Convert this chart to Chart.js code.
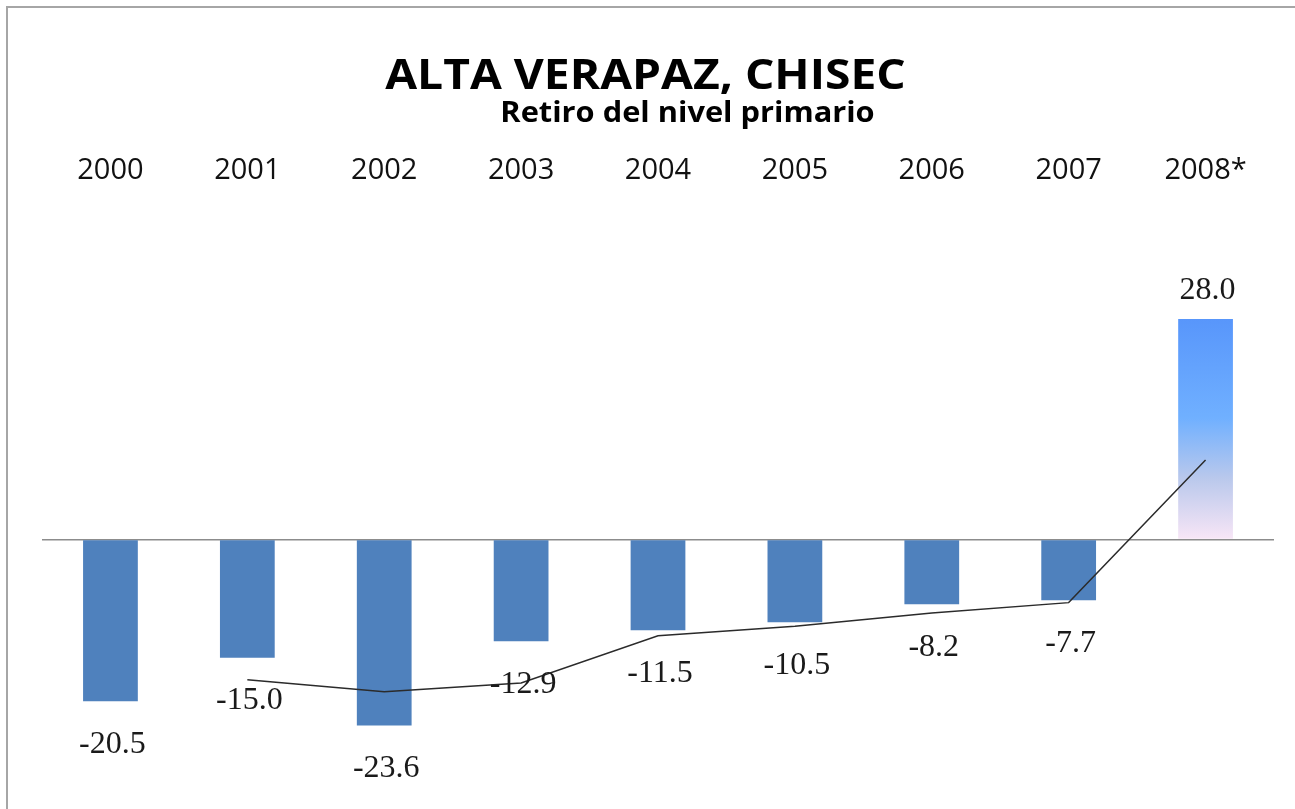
<!DOCTYPE html>
<html>
<head>
<meta charset="utf-8">
<script src="https://cdn.jsdelivr.net/npm/chart.js@4"></script>
<style>
  html, body { margin: 0; padding: 0; background: #fff; overflow: hidden; }
  #wrap { position: relative; width: 1295px; height: 809px; }
  #frame { position: absolute; left: 6px; top: 6px; width: 1400px; height: 900px;
           border-left: 2px solid #a6a6a6; border-top: 2px solid #a6a6a6; }
  canvas { position: absolute; left: 0; top: 0; }
</style>
</head>
<body>
<div id="wrap">
  <div id="frame"></div>
  <canvas id="chart" width="1295" height="809"></canvas>
</div>
<script>
// datos
const years = ["2000", "2001", "2002", "2003", "2004", "2005", "2006", "2007", "2008*"];
const retiro = [-20.5, -15.0, -23.6, -12.9, -11.5, -10.5, -8.2, -7.7, 28.0];
const tendencia = [null, -17.8, -19.3, -18.2, -12.2, -11.0, -9.3, -8.0, 10.1];

const titulo = "ALTA VERAPAZ, CHISEC";
const subtitulo = "Retiro del nivel primario";

// color de barra: azul liso para negativos, degradado para el positivo
function barColor(ctx) {
  const v = ctx.raw;
  if (v < 0) return "#4f81bd";
  const chart = ctx.chart;
  if (!chart.chartArea) return "#5b9bff";
  const y = chart.scales.y;
  const g = chart.ctx.createLinearGradient(0, y.getPixelForValue(v), 0, y.getPixelForValue(0));
  g.addColorStop(0, "#5896fb");
  g.addColorStop(0.45, "#70b0ff");
  g.addColorStop(0.72, "#b9c8ec");
  g.addColorStop(1, "#f8e6f6");
  return g;
}

// texto un poco ensanchado, como en el original
function wideText(c, txt, x, y, sx) {
  c.save();
  c.translate(x, y);
  c.scale(sx, 1);
  c.fillText(txt, 0, 0);
  c.restore();
}

const titlePlugin = {
  id: "titulos",
  afterDraw(chart) {
    const c = chart.ctx;
    const cx = chart.width / 2;
    c.save();
    c.fillStyle = "#000";
    c.textAlign = "center";
    c.textBaseline = "alphabetic";
    c.font = "bold 42px 'Open Sans'";
    wideText(c, titulo, cx - 2, 89, 1.1);
    c.font = "bold 28px 'Open Sans'";
    wideText(c, subtitulo, cx + 40, 122, 1.1);
    c.restore();
  }
};

const labelPlugin = {
  id: "etiquetas",
  afterDatasetsDraw(chart) {
    const c = chart.ctx;
    const meta = chart.getDatasetMeta(1);
    c.save();
    c.font = "32px 'Liberation Serif'";
    c.fillStyle = "#1a1a1a";
    c.textAlign = "center";
    c.textBaseline = "middle";
    meta.data.forEach((bar, i) => {
      const v = retiro[i];
      const y = v < 0 ? bar.y + 43 : bar.y - 28;
      c.fillText(v.toFixed(1), bar.x + 2, y);
    });
    c.restore();
  }
};

new Chart(document.getElementById("chart"), {
  type: "bar",
  data: {
    labels: years,
    datasets: [
      {
        type: "line",
        label: "Tendencia",
        data: tendencia,
        borderColor: "#2b2b2b",
        borderWidth: 1.5,
        pointRadius: 0,
        tension: 0,
        order: 0
      },
      {
        label: "Retiro",
        data: retiro,
        backgroundColor: barColor,
        borderWidth: 0,
        barPercentage: 0.4,
        categoryPercentage: 1,
        order: 1
      }
    ]
  },
  options: {
    responsive: false,
    animation: false,
    layout: { padding: { top: 156, left: 42, right: 21, bottom: 33 } },
    plugins: {
      legend: { display: false },
      tooltip: { enabled: false }
    },
    scales: {
      x: {
        position: "top",
        grid: { display: false, drawTicks: false },
        border: { display: false },
        ticks: {
          color: "#111",
          font: { family: "'Open Sans'", size: 29, lineHeight: 1 },
          padding: 0,
          autoSkip: false,
          maxRotation: 0
        }
      },
      y: {
        min: -30,
        max: 45,
        border: { display: false },
        ticks: { display: false },
        grid: {
          drawTicks: false,
          lineWidth: 1.5,
          color: (ctx) => (ctx.tick && ctx.tick.value === 0 ? "#8c8c8c" : "rgba(0,0,0,0)")
        }
      }
    }
  },
  plugins: [titlePlugin, labelPlugin]
});
</script>
</body>
</html>
